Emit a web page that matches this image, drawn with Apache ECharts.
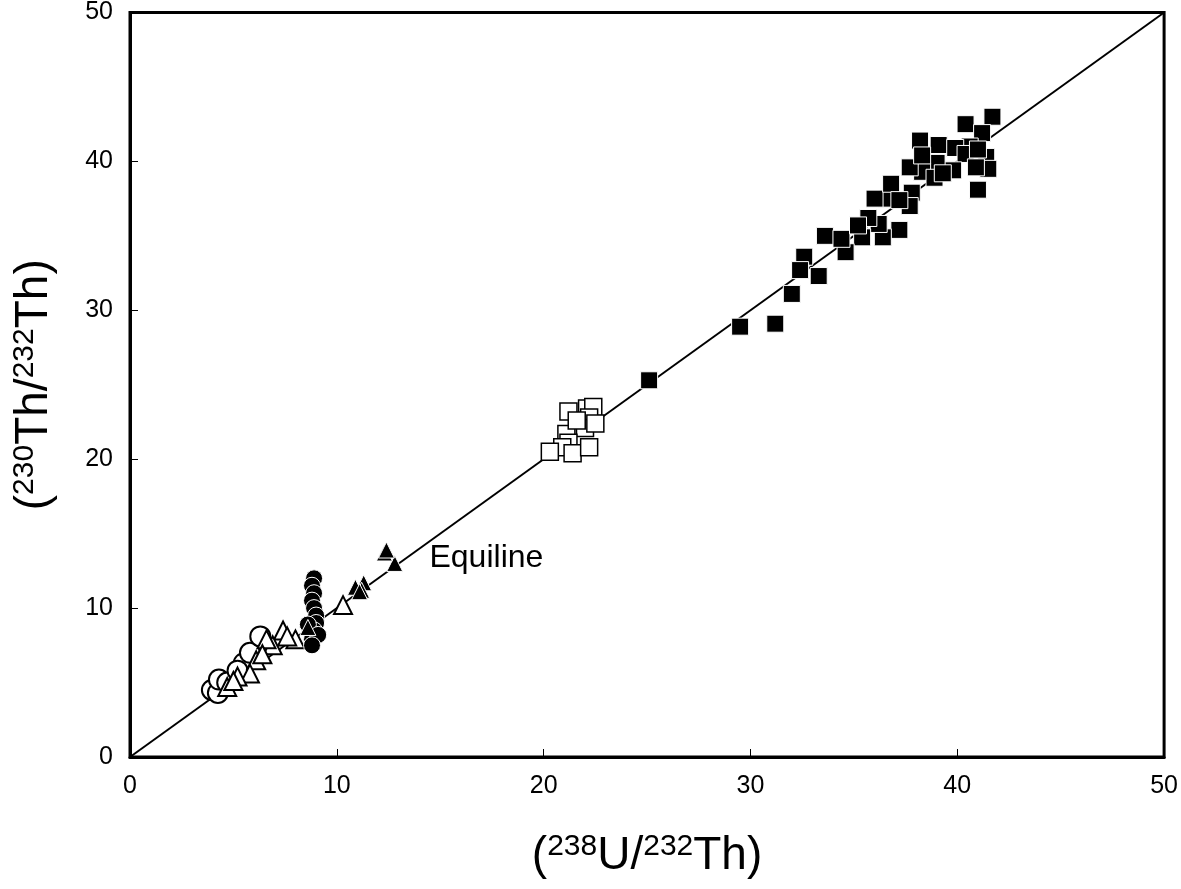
<!DOCTYPE html>
<html><head><meta charset="utf-8">
<script src="https://cdn.jsdelivr.net/npm/echarts@6/dist/echarts.min.js"></script>
<style>html,body{margin:0;padding:0;background:#fff}#c{width:1181px;height:889px}</style>
</head><body><div id="c"></div>
<script>
const axisTicks = [0, 10, 20, 30, 40, 50];
const equiline = [[0, 0], [50, 50]];
const filledSquares = [
[38.2,41.4],[39.1,41.1],[40.4,42.5],[41.7,43.0],[41.2,41.9],[40.6,41.0],[41.4,40.3],[39.9,40.9],
[40.4,40.5],[41.5,39.5],[40.9,39.6],[39.8,39.4],[39.0,39.9],[38.3,39.3],[38.9,38.9],[37.7,39.6],
[37.8,37.9],[36.6,37.5],[36.0,37.5],[36.8,38.5],[37.7,37.0],[37.2,35.4],[36.4,34.9],[36.2,35.8],
[35.7,36.2],[35.4,34.9],[34.6,33.9],[33.6,35.0],[34.4,34.8],[32.6,33.6],[32.4,32.7],[33.3,32.3],
[32.0,31.1],[29.5,28.9],[31.2,29.1],[41.0,38.1],[38.3,40.4],[25.1,25.3],[37.2,37.4],[35.2,35.7],
[41.0,40.8],[39.3,39.2]
];
const openSquares = [
[21.2,23.2],[22.1,23.4],[22.4,23.5],[22.2,22.8],[22.0,22.1],[21.1,21.7],[21.2,21.1],[20.9,20.8],
[20.3,20.5],[21.4,20.4],[22.2,20.8],[22.5,22.4],[21.6,22.6]
];
const openCircles = [
[3.96,4.5],[4.25,4.3],[4.3,5.2],[4.7,5.0],[5.5,6.3],[5.8,7.0],[6.3,8.1],[5.2,5.8]
];
const openTriangles = [
[10.3,10.2],[7.4,8.5],[8.0,7.9],[6.9,7.5],[6.1,6.5],[5.8,5.6],[5.2,5.4],[4.7,4.7],[6.6,7.9],[7.6,8.1],[5.0,5.1],[6.4,6.9]
];
const filledCircles = [
[8.9,12.0],[8.8,11.5],[8.9,11.0],[8.8,10.5],[8.9,10.0],[9.0,9.5],[9.0,9.0],[8.9,8.5],[8.8,7.9],[8.6,8.9],[9.1,8.2],[8.8,7.5]
];
const filledTriangles = [
[12.8,13.0],[12.3,13.7],[12.4,13.9],[11.3,11.7],[11.2,11.2],[10.9,11.4],[11.1,11.1],[8.6,8.7]
];
const labelText = 'Equiline';
const labelPoint = [14.48, 13.36];

const chart = echarts.init(document.getElementById('c'), null, {renderer: 'canvas'});
const ff = 'Liberation Sans, Arial, sans-serif';
const axisCommon = {
  type: 'value', min: 0, max: 50, interval: 10,
  axisLine: {show: true, lineStyle: {color: '#000', width: 3}},
  axisTick: {show: true, inside: true, length: 8, lineStyle: {color: '#000', width: 1}},
  splitLine: {show: false},
  axisLabel: {color: '#000', fontSize: 25, fontFamily: ff, margin: 17},
  nameLocation: 'middle'
};
const rich = {
  n: {fontSize: 46, fontFamily: ff, color: '#000', verticalAlign: 'bottom', lineHeight: 52},
  s: {fontSize: 30, fontFamily: ff, color: '#000', verticalAlign: 'bottom', lineHeight: 52, padding: [0, 0, 17, 0]}
};
const mk = (c, b, w) => ({color: c, borderColor: b, borderWidth: w, opacity: 1});
chart.setOption({
  animation: false,
  backgroundColor: '#fff',
  grid: {left: 130, right: 15, top: 12, bottom: 132, show: true, borderColor: '#000', borderWidth: 3},
  xAxis: Object.assign({}, axisCommon, {
    name: '{n|(}{s|238}{n|U/}{s|232}{n|Th)}', nameGap: 70,
    nameTextStyle: {rich: rich}
  }),
  yAxis: Object.assign({}, axisCommon, {
    name: '{n|(}{s|230}{n|Th/}{s|232}{n|Th)}', nameGap: 73,
    nameTextStyle: {rich: rich}
  }),
  series: [
    {type: 'line', data: equiline, symbol: 'none', lineStyle: {color: '#000', width: 2}, z: 1},
    {type: 'scatter', data: openSquares, symbol: 'rect', symbolSize: 17, itemStyle: mk('#fff', '#000', 1.5), z: 2},
    {type: 'scatter', data: filledSquares, symbol: 'rect', symbolSize: 17, itemStyle: mk('#000', '#fff', 1), z: 2},
    {type: 'scatter', data: openCircles, symbol: 'circle', symbolSize: 20, itemStyle: mk('#fff', '#000', 2), z: 2},
    {type: 'scatter', data: openTriangles, symbol: 'triangle', symbolSize: 18, itemStyle: mk('#fff', '#000', 2), z: 3},
    {type: 'scatter', data: filledCircles, symbol: 'circle', symbolSize: 17, itemStyle: mk('#000', '#fff', 1), z: 3},
    {type: 'scatter', data: filledTriangles, symbol: 'triangle', symbolSize: 16, itemStyle: mk('#000', '#fff', 1), z: 4}
  ]
});
const p = chart.convertToPixel({gridIndex: 0}, labelPoint);
chart.setOption({
  graphic: [{type: 'text', x: p[0], y: p[1], z: 10,
    style: {text: labelText, fill: '#000', font: '32px ' + ff, textAlign: 'left', textVerticalAlign: 'middle'}}]
});
</script></body></html>
